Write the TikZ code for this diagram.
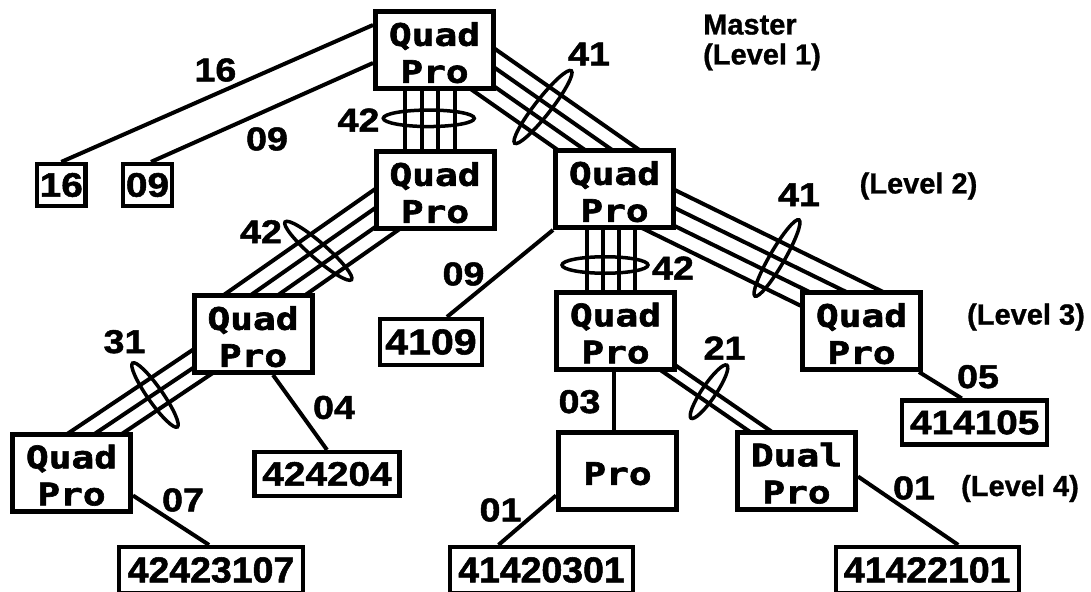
\documentclass[tikz,border=0pt]{standalone}
\usepackage{fontspec}
\setmainfont{Liberation Sans}
\newfontfamily\quadfont[FakeStretch=1.22,FakeBold=2]{DejaVu Sans Mono}
\newfontfamily\numfont[FakeStretch=1.14,FakeBold=1.5]{Liberation Sans}
\newfontfamily\numfonttall[FakeStretch=1.04,FakeBold=1.5]{Liberation Sans}
\newfontfamily\levfont[FakeBold=1]{Liberation Sans}
\usetikzlibrary{shapes.geometric,calc}
\pgfdeclarelayer{bg}
\pgfsetlayers{bg,main}
\newcommand\bundle[3]{%
  \foreach \off/\pa/\pb in {#3}{\draw[wire] ($(#1)!\off pt!\pa:(#2)$) -- ($(#2)!\off pt!\pb:(#1)$);}}
\newcommand\qtxt[1]{\rule{0pt}{29pt}#1}
\begin{document}
\begin{tikzpicture}[x=1pt,y=-1pt,
  qbox/.style={draw, line width=5pt, fill=white, minimum width=118pt, minimum height=77pt,
    inner sep=0pt, align=center, font=\quadfont\bfseries\fontsize{31}{37}\selectfont},
  nbox/.style={draw, line width=4.2pt, fill=white, inner sep=0pt, minimum height=44pt,
    font=\numfont\bfseries\fontsize{34}{36}\selectfont},
  tallbox/.style={nbox, minimum height=46pt, font=\numfonttall\bfseries\fontsize{36}{38}\selectfont},
  lab/.style={font=\numfont\bfseries\fontsize{33}{36}\selectfont, inner sep=0pt},
  lev/.style={font=\levfont\bfseries\fontsize{29}{30}\selectfont, inner sep=0pt, align=left},
  wire/.style={line width=4pt},
  ring/.style={draw, ellipse, line width=3.5pt, inner sep=0pt},
]
\useasboundingbox (0,0) rectangle (1091,591);

% processor boxes
\node[qbox] (m)    at (434.5,50)  {\qtxt{Quad}\\Pro};
\node[qbox] (l2a)  at (435,190)   {\qtxt{Quad}\\Pro};
\node[qbox] (l2b)  at (614.5,189) {\qtxt{Quad}\\Pro};
\node[qbox] (l3a)  at (253,334)   {\qtxt{Quad}\\Pro};
\node[qbox] (l3b)  at (615.5,330.5) {\qtxt{Quad}\\Pro};
\node[qbox] (l3c)  at (861.5,331) {\qtxt{Quad}\\Pro};
\node[qbox] (l4a)  at (71.5,472.5) {\qtxt{Quad}\\Pro};
\node[qbox] (pro)  at (617.5,470.5) {\qtxt{Pro}};
\node[qbox] (dual) at (796.5,470.5) {\qtxt{Dual}\\Pro};

% number boxes
\node[nbox, minimum width=48.5pt, minimum height=42pt] (n16) at (61.3,185) {16};
\node[nbox, minimum width=49pt, minimum height=42pt] (n09) at (147.5,185) {09};
\node[nbox, minimum width=102pt, minimum height=46pt, font=\numfont\bfseries\fontsize{36}{38}\selectfont] (n4109) at (431,342) {4109};
\node[nbox, minimum width=145pt] (n424204) at (327,474) {424204};
\node[nbox, minimum width=145pt] (n414105) at (974.7,422.5) {414105};
\node[tallbox, minimum width=184pt] (n42423107) at (211,570) {42423107};
\node[tallbox, minimum width=183pt] (n41420301) at (541.5,570) {41420301};
\node[tallbox, minimum width=183pt] (n41422101) at (927.2,570) {41422101};

% bundle end points (inside the boxes)
\coordinate (Aa) at (470,60);   \coordinate (Ab) at (640,179);
\coordinate (Ba) at (640,200);  \coordinate (Bb) at (880,317.5);
\coordinate (Ca) at (410,193.2); \coordinate (Cb) at (230,319.2);
\coordinate (Da) at (220,349.9); \coordinate (Db) at (70,450.4);
\coordinate (Ga) at (650,355.3); \coordinate (Gb) at (790,451.9);

\begin{pgfonlayer}{bg}
  \fill[white] (0,0) rectangle (1091,591);
  % bundles
  \bundle{Aa}{Ab}{23.4/90/-90, 7.8/90/-90, 7.8/-90/90, 23.4/-90/90}
  \bundle{Ba}{Bb}{24.3/90/-90, 8.1/90/-90, 8.1/-90/90, 24.3/-90/90}
  \bundle{Ca}{Cb}{23.4/90/-90, 7.8/90/-90, 7.8/-90/90, 23.4/-90/90}
  \bundle{Da}{Db}{15.2/90/-90, 0/90/-90, 15.2/-90/90}
  \bundle{Ga}{Gb}{6.2/90/-90, 6.2/-90/90}
  \foreach \dx in {-29.5,-13,3.5,20}
    \draw[wire] ([xshift=\dx pt]m.south) -- ([xshift=\dx pt]m.south |- l2a.north);
  \foreach \dx in {-27.5,-11.5,4.5,20.5}
    \draw[wire] ([xshift=\dx pt]l2b.south) -- ([xshift=\dx pt]l2b.south |- l3b.north);
  % single links
  \draw[wire] ([yshift=-16pt]m.north west) -- (n16.north);
  \draw[wire] ([yshift=-54pt]m.north west) -- ([xshift=3.5pt]n09.north);
  \draw[wire] (l2b.south west) -- ([xshift=16pt]n4109.north);
  \draw[wire] ([xshift=20pt]l3a.south) -- (n424204.north);
  \draw[wire] ([yshift=18pt]l4a.south east) -- ([xshift=-2pt]n42423107.north);
  \draw[wire] ([xshift=-1.5pt]l3b.south) -- ([xshift=-3.5pt]pro.north);
  \draw[wire] ([yshift=16pt]pro.south west) -- ([xshift=-43pt]n41420301.north);
  \draw[wire] ([xshift=-4pt]l3c.south east) -- ([xshift=-13pt]n414105.north);
  \draw[wire] ([yshift=-6pt]dual.east) -- ([xshift=31pt]n41422101.north);
\end{pgfonlayer}

% bundle rings
\node[ring, minimum width=92pt, minimum height=16pt, rotate=52]  (eA) at (543,107) {};
\node[ring, minimum width=88pt, minimum height=15pt, rotate=60]  (eB) at (777,258) {};
\node[ring, minimum width=88pt, minimum height=16pt, rotate=-41] (eC) at (318.3,250.8) {};
\node[ring, minimum width=78pt, minimum height=15pt, rotate=-55] (eD) at (155,395) {};
\node[ring, minimum width=86pt, minimum height=16.5pt] (eE) at (605,265) {};
\node[ring, minimum width=91pt, minimum height=16.5pt] (eF) at (428.8,118.3) {};
\node[ring, minimum width=64pt, minimum height=14pt, rotate=56]  (eG) at (709,391.7) {};

% link labels
\node[lab] (t16)  at (215.4,70)  {16};
\node[lab] (t09a) at (267,139)   {09};
\node[lab] (t42a) at (358.5,120) {42};
\node[lab] (t42b) at (261,231.7) {42};
\node[lab] (t09b) at (463.5,274) {09};
\node[lab] (t41a) at (589,54)    {41};
\node[lab] (t41b) at (799,194.7) {41};
\node[lab] (t42c) at (673,268)   {42};
\node[lab] (t31)  at (124.5,341.7) {31};
\node[lab] (t04)  at (334,407.5) {04};
\node[lab] (t07)  at (183,500)   {07};
\node[lab] (t01a) at (500.5,510) {01};
\node[lab] (t03)  at (579.5,401.7) {03};
\node[lab] (t21)  at (724.5,348) {21};
\node[lab] (t05)  at (978,376.7) {05};
\node[lab] (t01b) at (914,488)   {01};

% level captions
\node[lev, anchor=west] (lv1) at (703,42.5) {Master\\(Level 1)};
\node[lev] (lv2) at (918.5,186) {(Level 2)};
\node[lev] (lv3) at (1026,317)  {(Level 3)};
\node[lev] (lv4) at (1020,488.5) {(Level 4)};
\end{tikzpicture}
\end{document}
